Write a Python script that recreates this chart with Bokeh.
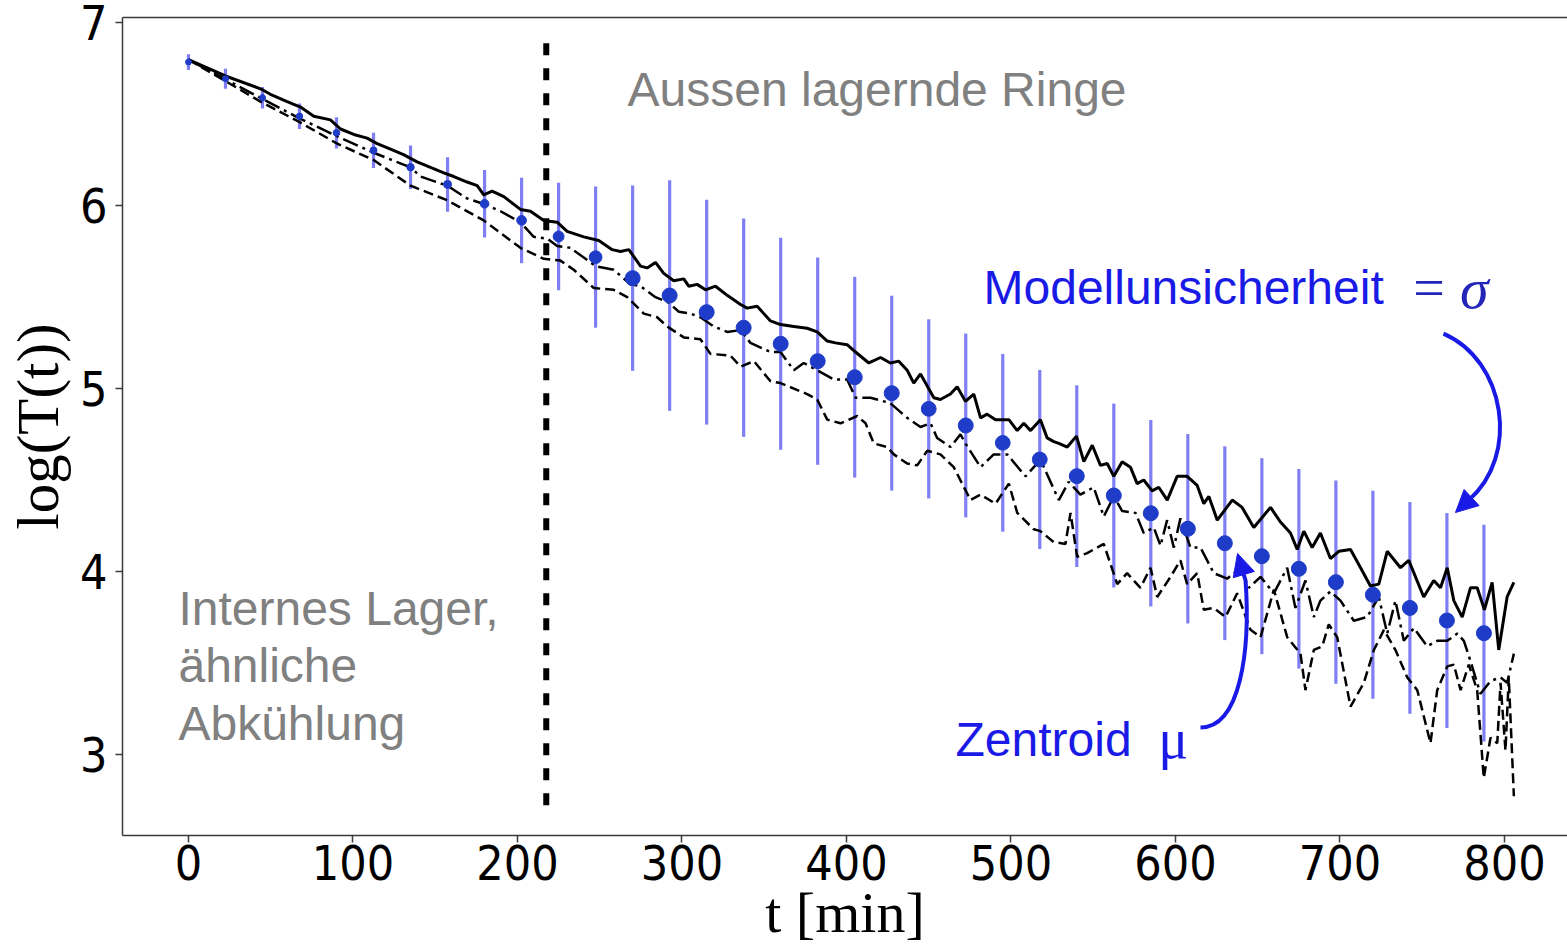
import numpy as np
from bokeh.plotting import figure
from bokeh.models import Range1d, LinearAxis, FixedTicker, Label, Arrow, NormalHead
from bokeh.embed import file_html
from bokeh.resources import INLINE

# ---------------- data ----------------
x_ticks = [0, 100, 200, 300, 400, 500, 600, 700, 800]
y_ticks = [3, 4, 5, 6, 7]

# centroid mu and model uncertainty sigma (every 22.5 min)
t_mu = [k * 22.5 for k in range(36)]
mu = [6.786, 6.695, 6.591, 6.49, 6.399, 6.303, 6.211, 6.117, 6.011, 5.92, 5.832, 5.719,
      5.604, 5.509, 5.418, 5.333, 5.245, 5.15, 5.062, 4.975, 4.889, 4.798, 4.703, 4.612,
      4.521, 4.415, 4.318, 4.233, 4.154, 4.083, 4.014, 3.941, 3.872, 3.8, 3.731, 3.662]
sigma = [0.043, 0.055, 0.059, 0.07, 0.085, 0.097, 0.119, 0.149, 0.185, 0.234, 0.294, 0.386,
         0.507, 0.631, 0.615, 0.597, 0.58, 0.567, 0.549, 0.533, 0.49, 0.503, 0.486, 0.49,
         0.497, 0.503, 0.51, 0.518, 0.53, 0.536, 0.546, 0.556, 0.569, 0.579, 0.588, 0.593]

t_solid = [0, 22.5, 43.8, 49.8, 60.0, 68.1, 76.2, 86.3, 92.4, 100.5, 108.6, 114.7, 122.8, 130.7,
           139.0, 147.1, 155.2, 161.3, 169.4, 175.5, 179.5, 184.6, 191.7, 201.8, 207.9, 216.0,
           224.1, 230.2, 240.3, 249.4, 257.6, 262.6, 267.7, 274.8, 278.8, 283.9, 288.9, 295.0,
           301.1, 304.1, 309.2, 314.3, 320.4, 327.5, 335.6, 339.6, 345.7, 353.8, 359.9, 368.0,
           376.1, 382.2, 388.3, 393.3, 400.4, 405.5, 413.6, 420.7, 426.7, 431.8, 436.9, 440.9,
           445.0, 453.1, 457.1, 463.2, 467.3, 472.3, 477.4, 481.5, 485.5, 490.6, 498.7, 503.8,
           507.8, 511.9, 517.9, 522.0, 526.0, 529.1, 534.2, 539.8, 544.3, 549.4, 554.4, 558.5,
           562.5, 567.6, 572.6, 576.7, 580.7, 585.8, 589.8, 595.0, 601.0, 607.1, 613.2, 617.2,
           620.3, 625.4, 634.5, 640.5, 647.6, 657.8, 663.8, 669.9, 674.0, 678.0, 683.1, 688.1,
           694.2, 699.3, 706.4, 712.5, 718.5, 723.6, 728.7, 736.8, 741.8, 750.9, 757.0, 761.1,
           765.2, 769.2, 774.3, 779.3, 783.4, 787.8, 792.5, 796.5, 801.6, 805.7]
y_solid = [6.80, 6.71, 6.64, 6.61, 6.57, 6.54, 6.49, 6.47, 6.42, 6.39, 6.37, 6.34, 6.31, 6.28,
           6.24, 6.21, 6.18, 6.16, 6.13, 6.11, 6.06, 6.08, 6.05, 5.98, 5.97, 5.92, 5.91, 5.86,
           5.83, 5.81, 5.76, 5.75, 5.76, 5.67, 5.66, 5.69, 5.63, 5.59, 5.60, 5.56, 5.57, 5.54,
           5.56, 5.51, 5.46, 5.44, 5.45, 5.37, 5.35, 5.34, 5.33, 5.31, 5.26, 5.25, 5.24, 5.20,
           5.14, 5.17, 5.14, 5.15, 5.10, 5.03, 5.08, 4.95, 4.94, 4.97, 5.01, 4.93, 4.97, 4.84,
           4.86, 4.83, 4.83, 4.77, 4.81, 4.77, 4.83, 4.73, 4.71, 4.70, 4.68, 4.74, 4.60, 4.69,
           4.58, 4.59, 4.52, 4.60, 4.57, 4.48, 4.50, 4.44, 4.46, 4.39, 4.52, 4.52, 4.47, 4.37,
           4.41, 4.28, 4.39, 4.35, 4.24, 4.35, 4.27, 4.21, 4.12, 4.22, 4.13, 4.21, 4.07, 4.11,
           4.12, 4.02, 3.92, 3.93, 4.11, 4.02, 4.06, 3.86, 3.95, 3.91, 4.02, 3.84, 3.75, 3.91,
           3.91, 3.79, 3.94, 3.57, 3.86, 3.94]

t_dashdot = [0, 43.8, 67.1, 90.4, 112.6, 135.0, 141.0, 157.3, 169.4, 179.5, 189.7, 201.8, 209.9,
             218.1, 224.1, 232.2, 247.4, 258.5, 268.7, 274.8, 283.9, 292.0, 298.1, 305.2, 311.2,
             319.3, 327.5, 335.6, 341.6, 353.8, 359.9, 368.0, 374.0, 382.2, 392.3, 400.4, 405.5,
             414.6, 426.7, 436.9, 445.0, 451.1, 455.1, 463.2, 469.3, 472.3, 481.5, 489.5, 497.7,
             508.8, 517.9, 529.1, 535.1, 542.2, 550.3, 556.4, 562.5, 567.6, 575.7, 580.7, 586.8,
             590.9, 594.9, 599.0, 603.0, 609.1, 615.2, 623.3, 631.4, 639.5, 644.6, 651.7, 659.8,
             667.9, 672.9, 679.0, 684.1, 688.1, 694.2, 700.3, 708.4, 716.5, 723.6, 728.7, 733.7,
             738.8, 744.9, 753.0, 759.1, 765.2, 771.3, 775.3, 779.3, 785.4, 791.5, 797.6, 801.6,
             805.7]
y_dashdot = [6.80, 6.59, 6.48, 6.38, 6.29, 6.21, 6.16, 6.11, 6.04, 6.01, 5.97, 5.91, 5.83, 5.82,
             5.78, 5.77, 5.67, 5.65, 5.57, 5.56, 5.50, 5.47, 5.42, 5.41, 5.39, 5.34, 5.31, 5.32,
             5.25, 5.20, 5.20, 5.10, 5.14, 5.10, 5.05, 5.05, 4.95, 4.95, 4.92, 4.84, 4.79, 4.81,
             4.73, 4.68, 4.75, 4.70, 4.57, 4.64, 4.64, 4.52, 4.61, 4.39, 4.49, 4.42, 4.46, 4.30,
             4.41, 4.33, 4.32, 4.21, 4.24, 4.14, 4.28, 4.13, 4.29, 4.13, 4.13, 3.99, 3.96, 4.02,
             3.91, 3.97, 3.88, 4.02, 3.80, 3.95, 3.75, 3.84, 3.89, 3.84, 3.73, 3.75, 3.86, 3.66,
             3.84, 3.62, 3.69, 3.59, 3.62, 3.62, 3.66, 3.62, 3.51, 3.33, 3.40, 3.42, 3.39, 3.55]

t_dashed = [0, 43.8, 67.1, 90.4, 112.6, 135.0, 157.3, 179.5, 201.8, 216.0, 226.1, 234.2, 246.4,
            258.5, 266.7, 276.8, 284.9, 291.0, 301.1, 311.2, 317.3, 329.5, 335.6, 343.7, 353.8,
            359.9, 368.0, 376.1, 382.2, 388.3, 396.4, 406.5, 411.6, 416.6, 424.7, 428.8, 436.9,
            443.0, 449.1, 457.1, 465.2, 475.4, 481.5, 490.6, 498.7, 503.8, 513.9, 517.9, 526.0,
            533.1, 536.2, 540.2, 546.3, 556.4, 564.6, 570.6, 578.7, 584.8, 588.9, 597.0, 603.0,
            607.1, 613.2, 617.2, 623.3, 630.4, 637.5, 645.6, 651.7, 659.8, 667.9, 676.0, 679.0,
            684.1, 689.2, 693.2, 698.3, 706.4, 714.5, 720.6, 726.7, 733.7, 740.9, 747.0, 755.0,
            759.1, 765.2, 769.2, 773.3, 778.3, 783.4, 787.4, 791.5, 795.6, 797.6, 800.6, 802.6,
            805.7]
y_dashed = [6.80, 6.57, 6.46, 6.34, 6.25, 6.11, 6.03, 5.92, 5.77, 5.71, 5.70, 5.65, 5.55, 5.54,
            5.50, 5.41, 5.39, 5.34, 5.28, 5.27, 5.19, 5.18, 5.12, 5.15, 5.04, 5.03, 5.00, 4.97,
            4.94, 4.83, 4.81, 4.85, 4.81, 4.70, 4.68, 4.64, 4.59, 4.58, 4.66, 4.64, 4.57, 4.39,
            4.42, 4.37, 4.48, 4.32, 4.23, 4.22, 4.16, 4.15, 4.32, 4.08, 4.10, 4.15, 3.93, 3.99,
            3.91, 4.02, 3.86, 3.97, 4.06, 3.93, 3.99, 3.79, 3.80, 3.75, 3.88, 3.68, 3.64, 3.90,
            3.64, 3.55, 3.35, 3.57, 3.59, 3.71, 3.64, 3.26, 3.39, 3.57, 3.68, 3.57, 3.42, 3.35,
            3.06, 3.35, 3.48, 3.49, 3.35, 3.49, 3.35, 2.87, 3.09, 3.06, 3.39, 3.02, 3.42, 2.77]

# boundary between internal storage and outer rings
split_t = 217.5
split_lo, split_hi = 2.72, 6.92

# ---------------- figure ----------------
AXC = "#3a3a3a"
BLUE = "#1a1ae6"
GRAY = "#808080"

p = figure(width=1567, height=949, output_backend="svg", toolbar_location=None,
           x_range=Range1d(-40.1, 838.3), y_range=Range1d(2.555, 7.03),
           min_border_left=122, min_border_right=0, min_border_top=17, min_border_bottom=114,
           background_fill_color="white", border_fill_color="white")
p.outline_line_color = None
p.grid.visible = False

for ax, ticks in ((p.xaxis, x_ticks), (p.yaxis, y_ticks)):
    ax.ticker = FixedTicker(ticks=ticks)
    ax.axis_line_color = AXC
    ax.axis_line_width = 1.5
    ax.major_tick_line_color = AXC
    ax.major_tick_line_width = 1.5
    ax.major_tick_out = 7
    ax.major_tick_in = 0
    ax.minor_tick_out = 0
    ax.minor_tick_in = 0
    ax.major_label_text_font = "DejaVu Sans Condensed, DejaVu Sans"
    ax.major_label_text_font_size = "48px"
    ax.major_label_text_color = "black"
    ax.axis_label_text_font = "Liberation Serif"
    ax.axis_label_text_font_style = "normal"
    ax.axis_label_text_color = "black"
p.xaxis.major_label_standoff = 2
p.yaxis.major_label_standoff = 8

p.xaxis.axis_label = "t [min]"
p.xaxis.axis_label_text_font_size = "58px"
p.xaxis.axis_label_standoff = -3
p.yaxis.axis_label = "log(T(t))"
p.yaxis.axis_label_text_font_size = "59px"
p.yaxis.axis_label_standoff = 6

top = LinearAxis(ticker=FixedTicker(ticks=[]), major_label_text_font_size="0px",
                 major_tick_out=0, major_tick_in=0, minor_tick_out=0, minor_tick_in=0,
                 axis_line_color=AXC, axis_line_width=1.5, major_label_standoff=0)
p.add_layout(top, "above")

# error bars
lo = [m - s for m, s in zip(mu, sigma)]
hi = [m + s for m, s in zip(mu, sigma)]
p.segment(x0=t_mu, y0=lo, x1=t_mu, y1=hi, line_color="#7878f2", line_width=3.2, line_alpha=0.95)

# curves
p.line(t_solid, y_solid, line_color="black", line_width=3)
p.line(t_dashdot, y_dashdot, line_color="black", line_width=2.5, line_dash="16 5 3 5")
p.line(t_dashed, y_dashed, line_color="black", line_width=2.5, line_dash="10 5")

# centroid markers
msize = np.minimum(15, 5 + 20 * np.array(sigma))
p.scatter(t_mu, mu, size=msize, marker="circle", fill_color="#1e3cc8", line_color="#1e3cc8")

# split line
p.segment(x0=[split_t], y0=[split_lo], x1=[split_t], y1=[split_hi],
          line_color="black", line_width=6, line_dash="12 13")

# annotations
def lab(x, y, text, size, color, font="Liberation Sans", style="normal", **kw):
    kw.setdefault("text_baseline", "alphabetic")
    p.add_layout(Label(x=x, y=y, text=text, text_font=font, text_font_size=size,
                       text_color=color, text_font_style=style, **kw))

lab(266.9, 6.638, "Aussen lagernde Ringe", "48px", GRAY)
lab(-6.1, 3.795, "Internes Lager,", "48px", GRAY)
lab(-6.1, 3.486, "ähnliche", "48px", GRAY)
lab(-6.1, 3.168, "Abkühlung", "48px", GRAY)
lab(483.3, 5.554, "Modellunsicherheit", "48px", BLUE)
lab(744.5, 5.549, "=", "56px", "#2424b8", font="Liberation Serif")
lab(773.0, 5.549, "σ", "58px", "#2424b8", font="Liberation Serif", style="italic")
lab(466.3, 3.081, "Zentroid", "48px", BLUE)
lab(589.5, 3.081, "μ", "56px", BLUE, font="Liberation Serif")

# curved arrows
p.bezier(x0=[762.9, 615.2], y0=[5.301, 3.146], x1=[778.1, 642.6], y1=[4.388, 3.950],
         cx0=[800.6, 639.5], cy0=[5.154, 3.146], cx1=[809.7, 645.6], cy1=[4.634, 3.567],
         line_color=BLUE, line_width=4)
p.add_layout(Arrow(end=NormalHead(size=22, fill_color=BLUE, line_color=BLUE),
                   x_start=778.1, y_start=4.388, x_end=770.2, y_end=4.322,
                   line_color=BLUE, line_width=4))
p.add_layout(Arrow(end=NormalHead(size=22, fill_color=BLUE, line_color=BLUE),
                   x_start=642.6, y_start=3.950, x_end=637.7, y_end=4.098,
                   line_color=BLUE, line_width=4))

open("out.html", "w").write(file_html(p, INLINE))
